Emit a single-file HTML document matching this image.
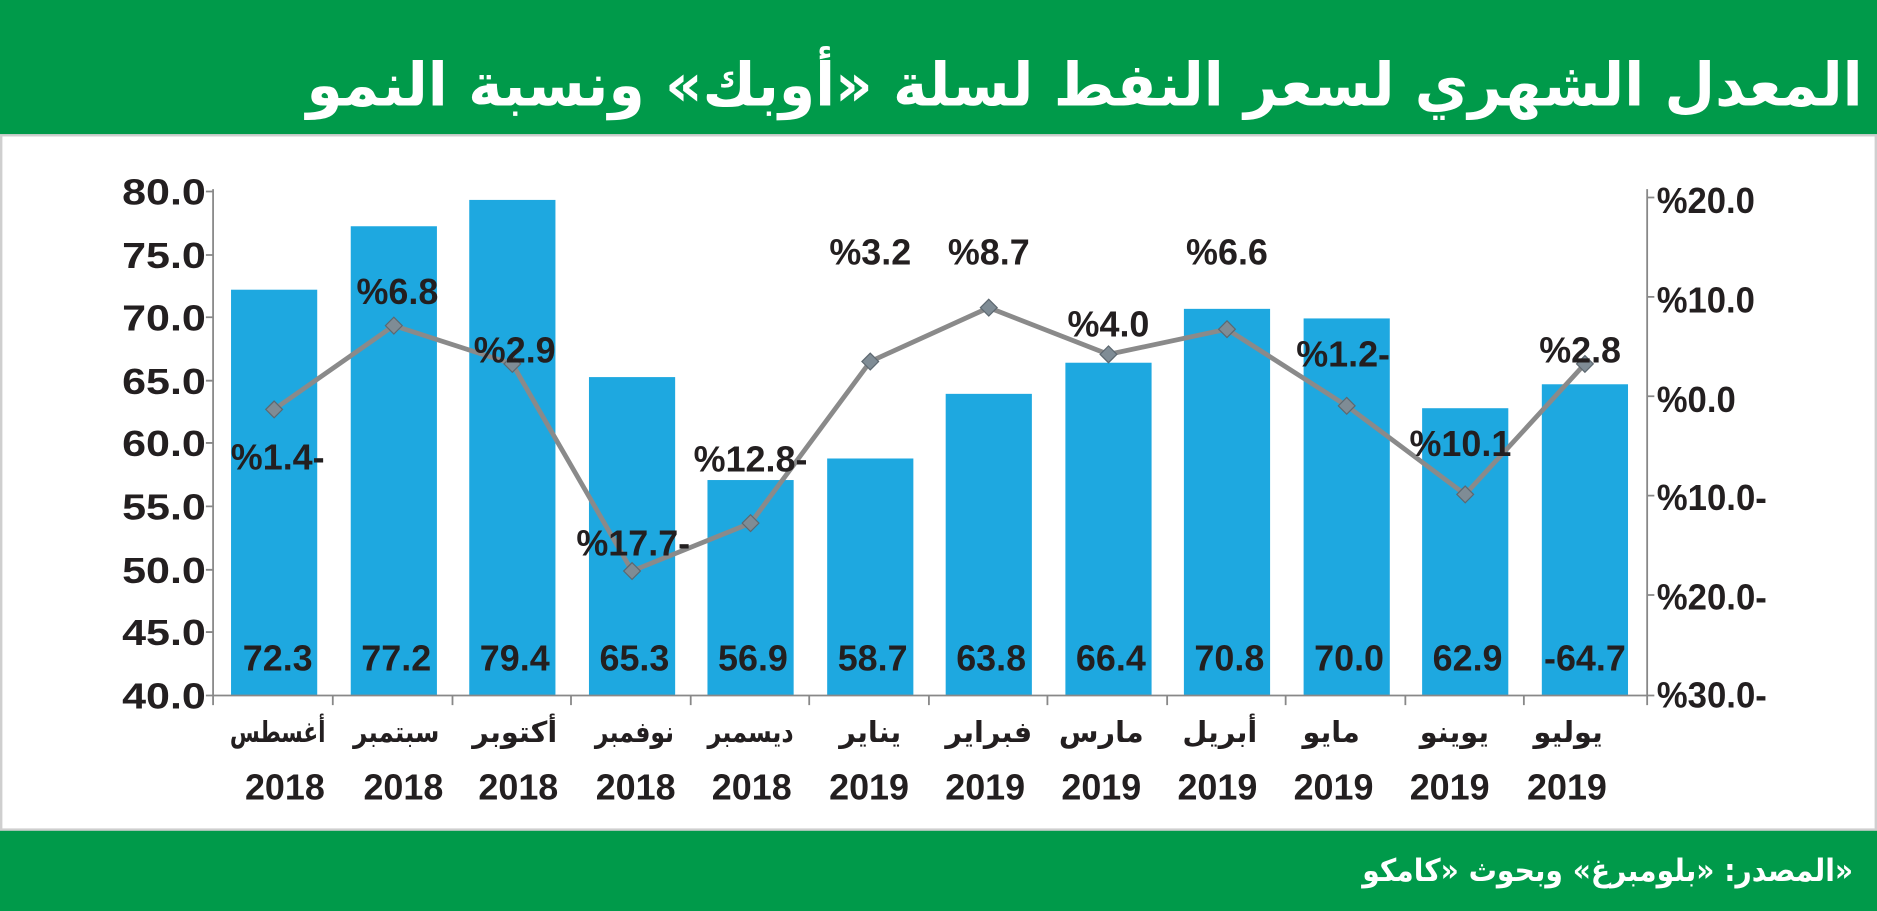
<!DOCTYPE html>
<html><head><meta charset="utf-8"><style>
html,body{margin:0;padding:0;background:#fff;}
svg{display:block;}
.n{font-family:"Liberation Sans Narrow","Liberation Sans",sans-serif;font-weight:bold;fill:#231f20;}
.a{font-family:"DejaVu Sans","Liberation Sans",sans-serif;font-weight:bold;}
</style></head><body>
<svg width="1877" height="911" viewBox="0 0 1568 761" preserveAspectRatio="none" xmlns="http://www.w3.org/2000/svg">
<rect x="0" y="0" width="1568" height="761" fill="#fff"/>
<rect x="0" y="0" width="1568" height="113" fill="#009a4a"/>
<rect x="0" y="693" width="1568" height="68" fill="#009a4a"/>
<rect x="1" y="113" width="1566" height="580" fill="none" stroke="#cfcfcf" stroke-width="2"/>
<text class="a" x="1556" y="88" font-size="50" fill="#fff" text-anchor="end" textLength="1300" lengthAdjust="spacingAndGlyphs">المعدل الشهري لسعر النفط لسلة «أوبك» ونسبة النمو</text>
<text class="a" x="1548" y="736" font-size="26" fill="#fff" text-anchor="end" textLength="410" lengthAdjust="spacingAndGlyphs">المصدر: «بلومبرغ» وبحوث «كامكو»</text>

<g fill="#1ea8e0">
<rect x="193" y="242" width="72" height="339"/>
<rect x="293" y="189" width="72" height="392"/>
<rect x="392" y="167" width="72" height="414"/>
<rect x="492" y="315" width="72" height="266"/>
<rect x="591" y="401" width="72" height="180"/>
<rect x="691" y="383" width="72" height="198"/>
<rect x="790" y="329" width="72" height="252"/>
<rect x="890" y="303" width="72" height="278"/>
<rect x="989" y="258" width="72" height="323"/>
<rect x="1089" y="266" width="72" height="315"/>
<rect x="1188" y="341" width="72" height="240"/>
<rect x="1288" y="321" width="72" height="260"/>
</g>

<g stroke="#888" stroke-width="1.5" fill="none">
<line x1="178" y1="158" x2="178" y2="581"/>
<line x1="1376" y1="158" x2="1376" y2="581"/>
<line x1="178" y1="581" x2="1376" y2="581"/>
<path d="M172 160H178M172 213H178M172 265H178M172 318H178M172 370H178M172 423H178M172 476H178M172 528H178M172 581H178"/>
<path d="M1376 165H1382M1376 248H1382M1376 331H1382M1376 414H1382M1376 497H1382M1376 581H1382"/>
<path d="M178 581V589M278 581V589M378 581V589M477 581V589M577 581V589M676 581V589M776 581V589M875 581V589M975 581V589M1074 581V589M1174 581V589M1273 581V589M1376 581V589"/>
</g>

<g class="n" font-size="30" text-anchor="end">
<text x="172" y="171" textLength="70" lengthAdjust="spacingAndGlyphs">80.0</text><text x="172" y="224" textLength="70" lengthAdjust="spacingAndGlyphs">75.0</text><text x="172" y="276" textLength="70" lengthAdjust="spacingAndGlyphs">70.0</text>
<text x="172" y="329" textLength="70" lengthAdjust="spacingAndGlyphs">65.0</text><text x="172" y="381" textLength="70" lengthAdjust="spacingAndGlyphs">60.0</text><text x="172" y="434" textLength="70" lengthAdjust="spacingAndGlyphs">55.0</text>
<text x="172" y="487" textLength="70" lengthAdjust="spacingAndGlyphs">50.0</text><text x="172" y="539" textLength="70" lengthAdjust="spacingAndGlyphs">45.0</text><text x="172" y="592" textLength="70" lengthAdjust="spacingAndGlyphs">40.0</text>
</g>
<g class="n" font-size="30">
<text x="1384" y="178" textLength="82" lengthAdjust="spacingAndGlyphs">%20.0</text><text x="1384" y="261" textLength="82" lengthAdjust="spacingAndGlyphs">%10.0</text><text x="1384" y="344" textLength="66" lengthAdjust="spacingAndGlyphs">%0.0</text>
<text x="1384" y="426" textLength="92" lengthAdjust="spacingAndGlyphs">%10.0-</text><text x="1384" y="509" textLength="92" lengthAdjust="spacingAndGlyphs">%20.0-</text><text x="1384" y="591" textLength="92" lengthAdjust="spacingAndGlyphs">%30.0-</text>
</g>

<g class="n" font-size="30" text-anchor="middle">
<text x="232" y="560">72.3</text><text x="331" y="560">77.2</text><text x="430" y="560">79.4</text>
<text x="530" y="560">65.3</text><text x="629" y="560">56.9</text><text x="729" y="560">58.7</text>
<text x="828" y="560">63.8</text><text x="928" y="560">66.4</text><text x="1027" y="560">70.8</text>
<text x="1127" y="560">70.0</text><text x="1226" y="560">62.9</text><text x="1324" y="560">-64.7</text>
</g>

<polyline fill="none" stroke="#8a8a8a" stroke-width="4" points="229,342 329,272 428,304 528,477 627,437 727,302 826,257 926,296 1025,275 1125,339 1224,413 1324,304"/>
<g fill="#7f8c95" stroke="#5d6870" stroke-width="1">
<path d="M229 335l7 7-7 7-7-7z"/><path d="M329 265l7 7-7 7-7-7z"/><path d="M428 297l7 7-7 7-7-7z"/>
<path d="M528 470l7 7-7 7-7-7z"/><path d="M627 430l7 7-7 7-7-7z"/><path d="M727 295l7 7-7 7-7-7z"/>
<path d="M826 250l7 7-7 7-7-7z"/><path d="M926 289l7 7-7 7-7-7z"/><path d="M1025 268l7 7-7 7-7-7z"/>
<path d="M1125 332l7 7-7 7-7-7z"/><path d="M1224 406l7 7-7 7-7-7z"/><path d="M1324 297l7 7-7 7-7-7z"/>
</g>

<g class="n" font-size="30" text-anchor="middle">
<text x="232" y="392">%1.4-</text><text x="332" y="254">%6.8</text><text x="430" y="303">%2.9</text>
<text x="529" y="464">%17.7-</text><text x="627" y="394">%12.8-</text><text x="727" y="221">%3.2</text>
<text x="826" y="221">%8.7</text><text x="926" y="281">%4.0</text><text x="1025" y="221">%6.6</text>
<text x="1122" y="306">%1.2-</text><text x="1220" y="381">%10.1</text><text x="1320" y="303">%2.8</text>
</g>

<g class="a" font-size="24" text-anchor="middle" fill="#231f20">
<text x="232" y="620" textLength="80" lengthAdjust="spacingAndGlyphs">أغسطس</text><text x="331" y="620" textLength="72" lengthAdjust="spacingAndGlyphs">سبتمبر</text><text x="430" y="620">أكتوبر</text>
<text x="530" y="620" textLength="66" lengthAdjust="spacingAndGlyphs">نوفمبر</text><text x="627" y="620" textLength="72" lengthAdjust="spacingAndGlyphs">ديسمبر</text><text x="727" y="620">يناير</text>
<text x="826" y="620">فبراير</text><text x="920" y="620">مارس</text><text x="1019" y="620">أبريل</text>
<text x="1112" y="620">مايو</text><text x="1215" y="620">يوينو</text><text x="1310" y="620">يوليو</text>
</g>
<g class="n" font-size="30" text-anchor="middle">
<text x="238" y="668">2018</text><text x="337" y="668">2018</text><text x="433" y="668">2018</text>
<text x="531" y="668">2018</text><text x="628" y="668">2018</text><text x="726" y="668">2019</text>
<text x="823" y="668">2019</text><text x="920" y="668">2019</text><text x="1017" y="668">2019</text>
<text x="1114" y="668">2019</text><text x="1211" y="668">2019</text><text x="1309" y="668">2019</text>
</g>
</svg>
</body></html>
